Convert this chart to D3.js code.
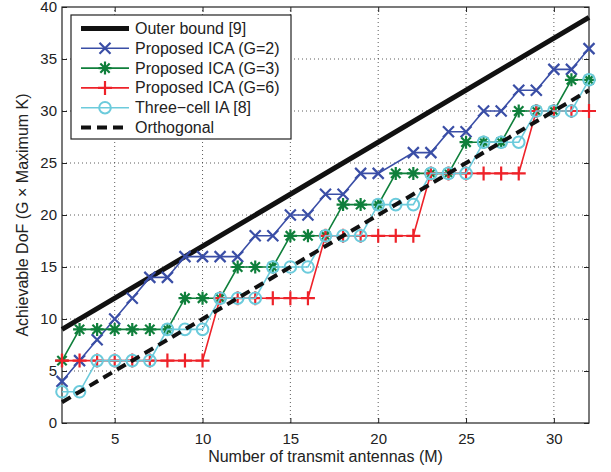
<!DOCTYPE html>
<html lang="en">
<head>
<meta charset="UTF-8">
<title>Achievable DoF</title>
<script src="https://d3js.org/d3.v7.min.js"></script>
<style>
    body { margin: 0; background: #fff; font-family: "Liberation Sans", Arial, sans-serif; }
    svg text { fill: #222; }
</style>
</head>
<body>
<div id="chart"></div>
<script>
// x values (number of transmit antennas)
const antennas = [2,3,4,5,6,7,8,9,10,11,12,13,14,15,16,17,18,19,20,21,22,23,24,25,26,27,28,29,30,31,32];

const outerM = [2, 32];
const outerDoF = [9, 39];
const orthoM = [2, 32];
const orthoDoF = [2, 32];

// null = no marker at that M
const icaG2 = [4,6,8,10,12,14,14,16,16,16,16,18,18,20,20,22,22,24,24,null,26,26,28,28,30,30,32,32,34,34,36];
const icaG3 = [6,9,9,9,9,9,9,12,12,12,15,15,15,18,18,18,21,21,21,24,24,24,24,27,27,27,30,30,30,33,33];
const icaG6 = [6,6,6,6,6,6,6,6,6,12,12,12,12,12,12,18,18,18,18,18,18,24,24,24,24,24,24,30,30,30,30];
const threeCell = [3,3,6,6,6,6,9,9,9,12,12,12,15,15,15,18,18,18,21,21,21,24,24,24,27,27,27,30,30,30,33];

const xTicks = [5, 10, 15, 20, 25, 30];
const yTicks = [0, 5, 10, 15, 20, 25, 30, 35, 40];

const width = 611, height = 472;
const margin = {top: 7, right: 22, bottom: 49, left: 62};

const svg = d3.select("#chart").append("svg")
    .attr("width", width)
    .attr("height", height);

const x = d3.scaleLinear().domain([2, 32]).range([margin.left, width - margin.right]);
const y = d3.scaleLinear().domain([0, 40]).range([height - margin.bottom, margin.top]);

// dotted grid
svg.append("g").selectAll("line").data(xTicks).join("line")
    .attr("x1", d => x(d)).attr("x2", d => x(d))
    .attr("y1", y(0)).attr("y2", y(40))
    .attr("stroke", "#333").attr("stroke-width", 0.8)
    .attr("stroke-dasharray", "1,3");
svg.append("g").selectAll("line").data(yTicks.slice(1, -1)).join("line")
    .attr("x1", x(2)).attr("x2", x(32))
    .attr("y1", d => y(d)).attr("y2", d => y(d))
    .attr("stroke", "#333").attr("stroke-width", 0.8)
    .attr("stroke-dasharray", "1,3");

// axes, ticks inside like matlab
const axisStyle = g => {
    g.select(".domain").remove();
    g.selectAll("line").attr("stroke", "#222");
    g.selectAll("text").style("font-size", "15px").style("font-family", "Liberation Sans, Arial, sans-serif").attr("fill", "#222");
};
svg.append("g")
    .attr("transform", `translate(0,${y(0)})`)
    .call(d3.axisBottom(x).tickValues(xTicks).tickSizeInner(-5).tickPadding(10))
    .call(axisStyle);
svg.append("g")
    .attr("transform", `translate(0,${y(40)})`)
    .call(d3.axisTop(x).tickValues(xTicks).tickSizeInner(-5).tickFormat(""))
    .call(axisStyle);
svg.append("g")
    .attr("transform", `translate(${x(2)},0)`)
    .call(d3.axisLeft(y).tickValues(yTicks).tickSizeInner(-5).tickPadding(5))
    .call(axisStyle);
svg.append("g")
    .attr("transform", `translate(${x(32)},0)`)
    .call(d3.axisRight(y).tickValues(yTicks).tickSizeInner(-5).tickFormat(""))
    .call(axisStyle);

svg.append("rect")
    .attr("x", x(2)).attr("y", y(40))
    .attr("width", x(32) - x(2)).attr("height", y(0) - y(40))
    .attr("fill", "none").attr("stroke", "#222").attr("stroke-width", 1.2);

// axis titles
svg.append("text")
    .attr("x", (x(2) + x(32)) / 2)
    .attr("y", 462)
    .attr("text-anchor", "middle")
    .style("font-size", "16px")
    .text("Number of transmit antennas (M)");
svg.append("text")
    .attr("transform", `translate(28,${(y(0) + y(40)) / 2}) rotate(-90)`)
    .attr("text-anchor", "middle")
    .style("font-size", "16px")
    .text("Achievable DoF (G \u00d7 Maximum K)");

// marker shapes
function markerPath(kind, s) {
    if (kind === "x") return `M${-s},${-s}L${s},${s}M${-s},${s}L${s},${-s}`;
    if (kind === "plus") return `M${-s},0L${s},0M0,${-s}L0,${s}`;
    if (kind === "star") {
        const d = s * 0.72;
        return `M${-s},0L${s},0M0,${-s}L0,${s}M${-d},${-d}L${d},${d}M${-d},${d}L${d},${-d}`;
    }
    return null;
}

const line = d3.line().x(d => x(d.m)).y(d => y(d.v));

const toPoints = (ms, vs) => ms.map((m, i) => ({m: m, v: vs[i]})).filter(d => d.v !== null);

const series = [
    {name: "Outer bound [9]", pts: toPoints(outerM, outerDoF), color: "#111", width: 5, dash: null, marker: null},
    {name: "Proposed ICA (G=2)", pts: toPoints(antennas, icaG2), color: "#3a4ea6", width: 1.6, dash: null, marker: "x", size: 5.5},
    {name: "Proposed ICA (G=3)", pts: toPoints(antennas, icaG3), color: "#0f7f3b", width: 1.6, dash: null, marker: "star", size: 6.5},
    {name: "Proposed ICA (G=6)", pts: toPoints(antennas, icaG6), color: "#ee2229", width: 1.6, dash: null, marker: "plus", size: 7},
    {name: "Three\u2212cell IA [8]", pts: toPoints(antennas, threeCell), color: "#6ccbdc", width: 1.6, dash: null, marker: "circle", size: 5.8},
    {name: "Orthogonal", pts: toPoints(orthoM, orthoDoF), color: "#111", width: 4, dash: "10,6", marker: null}
];

function drawMarker(g, s, cx, cy) {
    if (s.marker === "circle") {
        g.append("circle").attr("cx", cx).attr("cy", cy).attr("r", s.size)
            .attr("fill", "none").attr("stroke", s.color).attr("stroke-width", 2);
    } else {
        g.append("path").attr("transform", `translate(${cx},${cy})`)
            .attr("d", markerPath(s.marker, s.size))
            .attr("fill", "none").attr("stroke", s.color).attr("stroke-width", 2.2);
    }
}

series.forEach(s => {
    const g = svg.append("g");
    g.append("path")
        .datum(s.pts)
        .attr("fill", "none")
        .attr("stroke", s.color)
        .attr("stroke-width", s.width)
        .attr("stroke-dasharray", s.dash)
        .attr("d", line);
    if (s.marker) s.pts.forEach(p => drawMarker(g, s, x(p.m), y(p.v)));
});

// legend
const legend = svg.append("g").attr("transform", "translate(71,15)");
legend.append("rect")
    .attr("width", 220).attr("height", 124)
    .attr("fill", "#fff").attr("stroke", "#222").attr("stroke-width", 1.2);
series.forEach((s, i) => {
    const ly = 13.5 + i * 19.8;
    legend.append("line")
        .attr("x1", 10).attr("x2", 58).attr("y1", ly).attr("y2", ly)
        .attr("stroke", s.color).attr("stroke-width", s.width)
        .attr("stroke-dasharray", s.dash);
    if (s.marker) drawMarker(legend, s, 34, ly);
    legend.append("text")
        .attr("x", 64).attr("y", ly + 5.5)
        .style("font-size", "16px")
        .text(s.name);
});
</script>
</body>
</html>
